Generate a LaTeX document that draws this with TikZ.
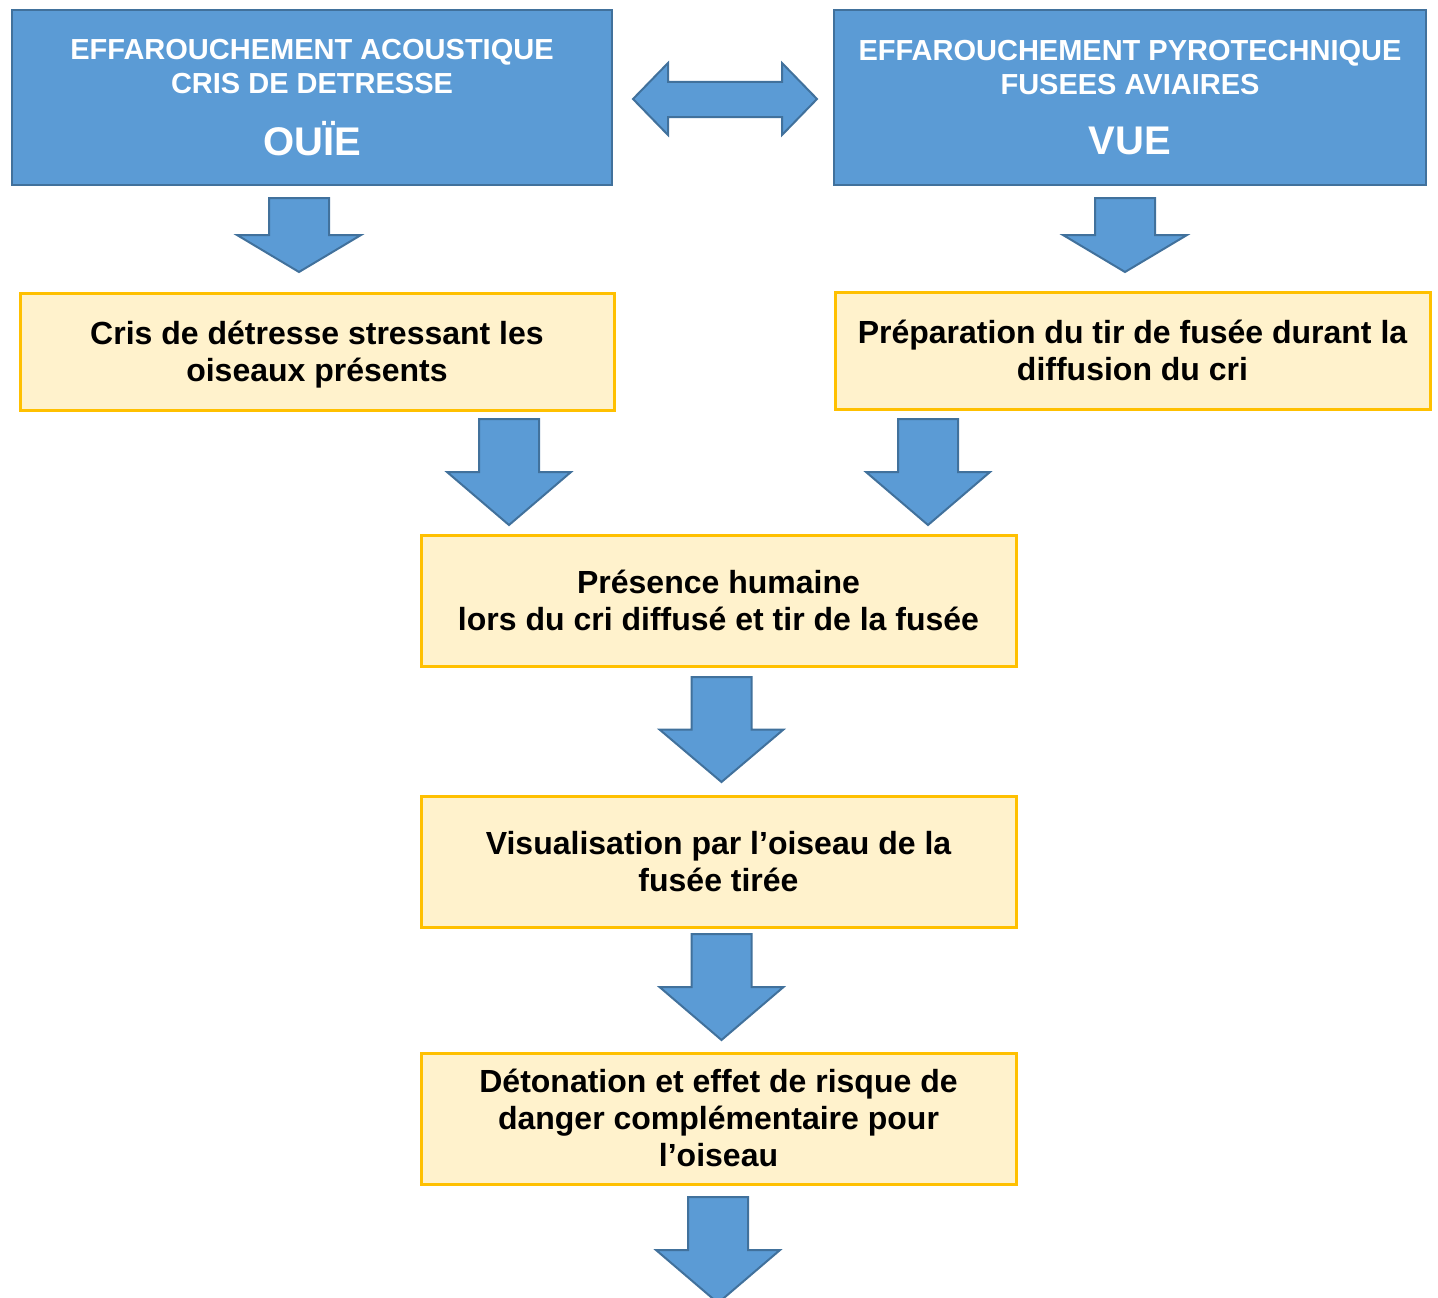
\documentclass[tikz,border=0pt]{standalone}
\usepackage{fontspec}
\setmainfont{Liberation Sans}
\usetikzlibrary{positioning}
\definecolor{bluefill}{RGB}{91,155,213}
\definecolor{blueline}{RGB}{65,113,156}
\definecolor{yellowfill}{RGB}{255,242,204}
\definecolor{yellowline}{RGB}{255,192,0}
\tikzset{top node/.style={rectangle,draw=blueline,fill=bluefill,line width=2.3pt,text=white,align=center,
            font=\bfseries\fontsize{29pt}{34pt}\selectfont,minimum height=175pt,inner sep=0pt},
         yellow node/.style={rectangle,draw=yellowline,fill=yellowfill,line width=3pt,text=black,align=center,
            font=\bfseries\fontsize{32pt}{37pt}\selectfont,minimum width=595pt,minimum height=117pt,
            inner sep=0pt,text depth=1pt},
         arrow shape/.style={draw=blueline,fill=bluefill,line width=2pt,line join=miter},
         pics/down arrow/.style={code={
            \draw[arrow shape] (-30,0) -- (30,0) -- (30,#1) -- (62,#1) -- (0,2*#1) -- (-62,#1) -- (-30,#1) -- cycle;}}
            }

\begin{document}
\begin{tikzpicture}[x=1pt,y=-1pt]
    \useasboundingbox (0,0) rectangle (1438,1298);
    \node[top node,minimum width=600pt] (acoustic) at (312,97.5)
        {EFFAROUCHEMENT ACOUSTIQUE\\CRIS DE DETRESSE\\[26pt]{\fontsize{40pt}{46pt}\selectfont OUÏE}};
    \node[top node,minimum width=592pt] (pyro) at (1130,97.5)
        {EFFAROUCHEMENT PYROTECHNIQUE\\FUSEES AVIAIRES\\[26pt]{\fontsize{40pt}{46pt}\selectfont VUE}};
    \node[yellow node,minimum width=594pt] (cris) at (317,351.5) {Cris de détresse stressant les\\oiseaux présents};
    \node[yellow node] (prep) at (1132.5,350.5) {Préparation du tir de fusée durant la\\diffusion du cri};
    \node[yellow node,minimum height=131pt] (presence) at (718.5,600.5) {Présence humaine\\lors du cri diffusé et tir de la fusée};
    \node[yellow node,minimum height=131pt] (visu) [below = 127pt of presence] {Visualisation par l’oiseau de la\\fusée tirée};
    \node[yellow node,minimum height=131pt] (deto) [below = 123pt of visu] {Détonation et effet de risque de\\danger complémentaire pour\\l’oiseau};

    \draw[arrow shape] (633,99) -- (668,63) -- (668,82) -- (782,82) -- (782,63) -- (817,99)
        -- (782,135) -- (782,117) -- (668,117) -- (668,135) -- cycle;

    \pic at (299,198) {down arrow=37};
    \pic at (1125,198) {down arrow=37};
    \pic at (509,419) {down arrow=53};
    \pic at (928,419) {down arrow=53};
    \pic at (721.5,677) {down arrow=52.5};
    \pic at (721.5,934) {down arrow=53};
    \pic at (718,1197) {down arrow=53};
    %%
\end{tikzpicture}
\end{document}
